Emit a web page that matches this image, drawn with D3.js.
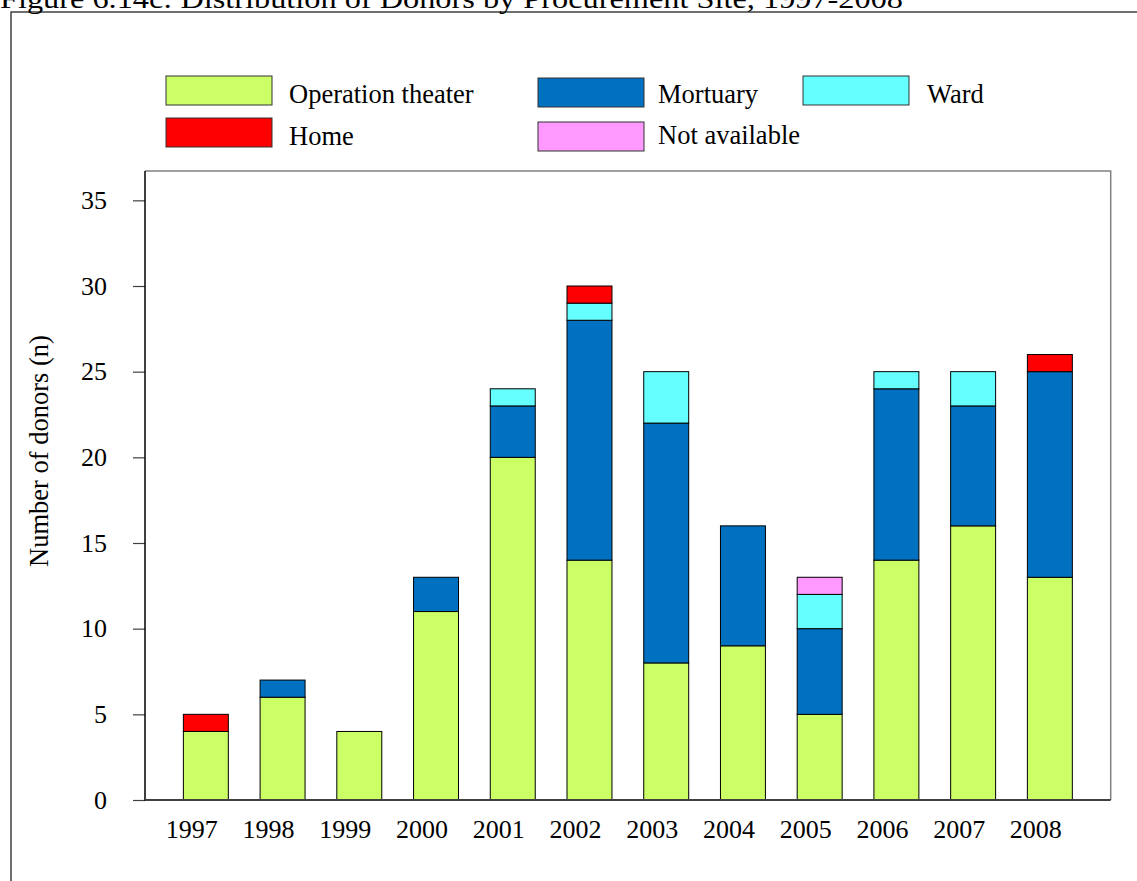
<!DOCTYPE html>
<html>
<head>
<meta charset="utf-8">
<script src="https://cdn.jsdelivr.net/npm/d3@7"></script>
<style>
  html, body { margin: 0; padding: 0; background: #fff; }
  svg { display: block; font-family: "Liberation Serif", "Times New Roman", serif; }
</style>
</head>
<body>
<svg id="chart" width="1137" height="881"></svg>
<script>
// ---- Data ----
const years = ["1997","1998","1999","2000","2001","2002","2003","2004","2005","2006","2007","2008"];
const operationTheater = [4, 6, 4, 11, 20, 14, 8, 9, 5, 14, 16, 13];
const mortuary         = [0, 1, 0, 2, 3, 14, 14, 7, 5, 10, 7, 12];
const ward             = [0, 0, 0, 0, 1, 1, 3, 0, 2, 1, 2, 0];
const home             = [1, 0, 0, 0, 0, 1, 0, 0, 0, 0, 0, 1];
const notAvailable     = [0, 0, 0, 0, 0, 0, 0, 0, 1, 0, 0, 0];
const seriesNames = ["Operation theater", "Mortuary", "Ward", "Home", "Not available"];
const seriesColors = ["#CCFF66", "#0070C0", "#66FFFF", "#FF0000", "#FF99FF"];
const yTicks = [0, 5, 10, 15, 20, 25, 30, 35];
const titleText = "Figure 6.14c: Distribution of Donors by Procurement Site, 1997-2008";
const yTitle = "Number of donors (n)";

(function () {
// ---- Build table ----
const seriesArrays = [operationTheater, mortuary, ward, home, notAvailable];
const table = years.map((yr, i) => {
  const row = { year: yr };
  seriesNames.forEach((s, k) => row[s] = seriesArrays[k][i]);
  return row;
});
const stacked = d3.stack().keys(seriesNames)(table);

const svg = d3.select("#chart");
const FS = 26;

// outer frame
svg.append("rect").attr("x", 11).attr("y", 12).attr("width", 1140).attr("height", 900)
  .attr("fill", "none").attr("stroke", "#404040").attr("stroke-width", 1.5);

// title (partially cut off at top, as in the source)
svg.append("text").attr("x", 0).attr("y", 8).attr("font-size", 28)
  .attr("textLength", 903).attr("lengthAdjust", "spacingAndGlyphs")
  .text(titleText);

// plot area
const pL = 145, pR = 1110.7, pT = 171, pB = 800;
const x = d3.scaleBand().domain(years).range([pL, pR]).paddingInner(0.414).paddingOuter(0.5);
const yPerUnit = (800 - 286) / 30;
const y = d3.scaleLinear().domain([0, (pB - pT) / yPerUnit]).range([pB, pT]);

// plot border (top/right)
svg.append("path")
  .attr("d", `M${pL},${pT}H${pR}V${pB}`)
  .attr("fill", "none").attr("stroke", "#808080").attr("stroke-width", 1.5);

// bars
const g = svg.append("g");
stacked.forEach((layer, k) => {
  g.selectAll(null).data(layer.filter(d => d[1] - d[0] > 0)).enter().append("rect")
    .attr("x", d => x(d.data.year))
    .attr("width", x.bandwidth())
    .attr("y", d => y(d[1]))
    .attr("height", d => y(d[0]) - y(d[1]))
    .attr("fill", seriesColors[k])
    .attr("stroke", "#000").attr("stroke-width", 1);
});

// y axis
const yAxis = d3.axisLeft(y).tickValues(yTicks).tickSize(12).tickPadding(26).tickFormat(d3.format("d"));
const ya = svg.append("g").attr("transform", `translate(${pL},0)`).call(yAxis);
ya.select(".domain").remove();
ya.selectAll(".tick line").attr("stroke", "#404040").attr("stroke-width", 1.2);
ya.selectAll(".tick text").attr("font-size", FS).attr("font-family", "Liberation Serif").attr("fill", "#000");
svg.append("line").attr("x1", pL).attr("x2", pL).attr("y1", pT).attr("y2", pB + 1)
  .attr("stroke", "#000").attr("stroke-width", 1.5);

// x axis
const xAxis = d3.axisBottom(x).tickSize(0).tickPadding(20);
const xa = svg.append("g").attr("transform", `translate(0,${pB})`).call(xAxis);
xa.select(".domain").remove();
xa.selectAll(".tick text").attr("font-size", FS).attr("font-family", "Liberation Serif").attr("fill", "#000").attr("dx", -14);
svg.append("line").attr("x1", pL).attr("x2", pR).attr("y1", pB).attr("y2", pB)
  .attr("stroke", "#404040").attr("stroke-width", 2);

// y title
svg.append("text")
  .attr("transform", `translate(48,451) rotate(-90)`)
  .attr("text-anchor", "middle").attr("font-size", FS + 0.5)
  .text(yTitle);

// legend
const legendPos = [
  { bx: 166, by: 76, tx: 289, ty: 103 },
  { bx: 538, by: 78, tx: 658, ty: 103 },
  { bx: 803, by: 76, tx: 927, ty: 103 },
  { bx: 166, by: 118, tx: 289, ty: 145 },
  { bx: 538, by: 122, tx: 658, ty: 144 }
];
const lg = svg.append("g");
seriesNames.forEach((s, k) => {
  const p = legendPos[k];
  lg.append("rect").attr("x", p.bx).attr("y", p.by).attr("width", 106).attr("height", 29)
    .attr("fill", seriesColors[k]).attr("stroke", "#333").attr("stroke-width", 1);
  lg.append("text").attr("x", p.tx).attr("y", p.ty)
    .attr("font-size", FS + 0.5).text(s);
});
})();
</script>
</body>
</html>
